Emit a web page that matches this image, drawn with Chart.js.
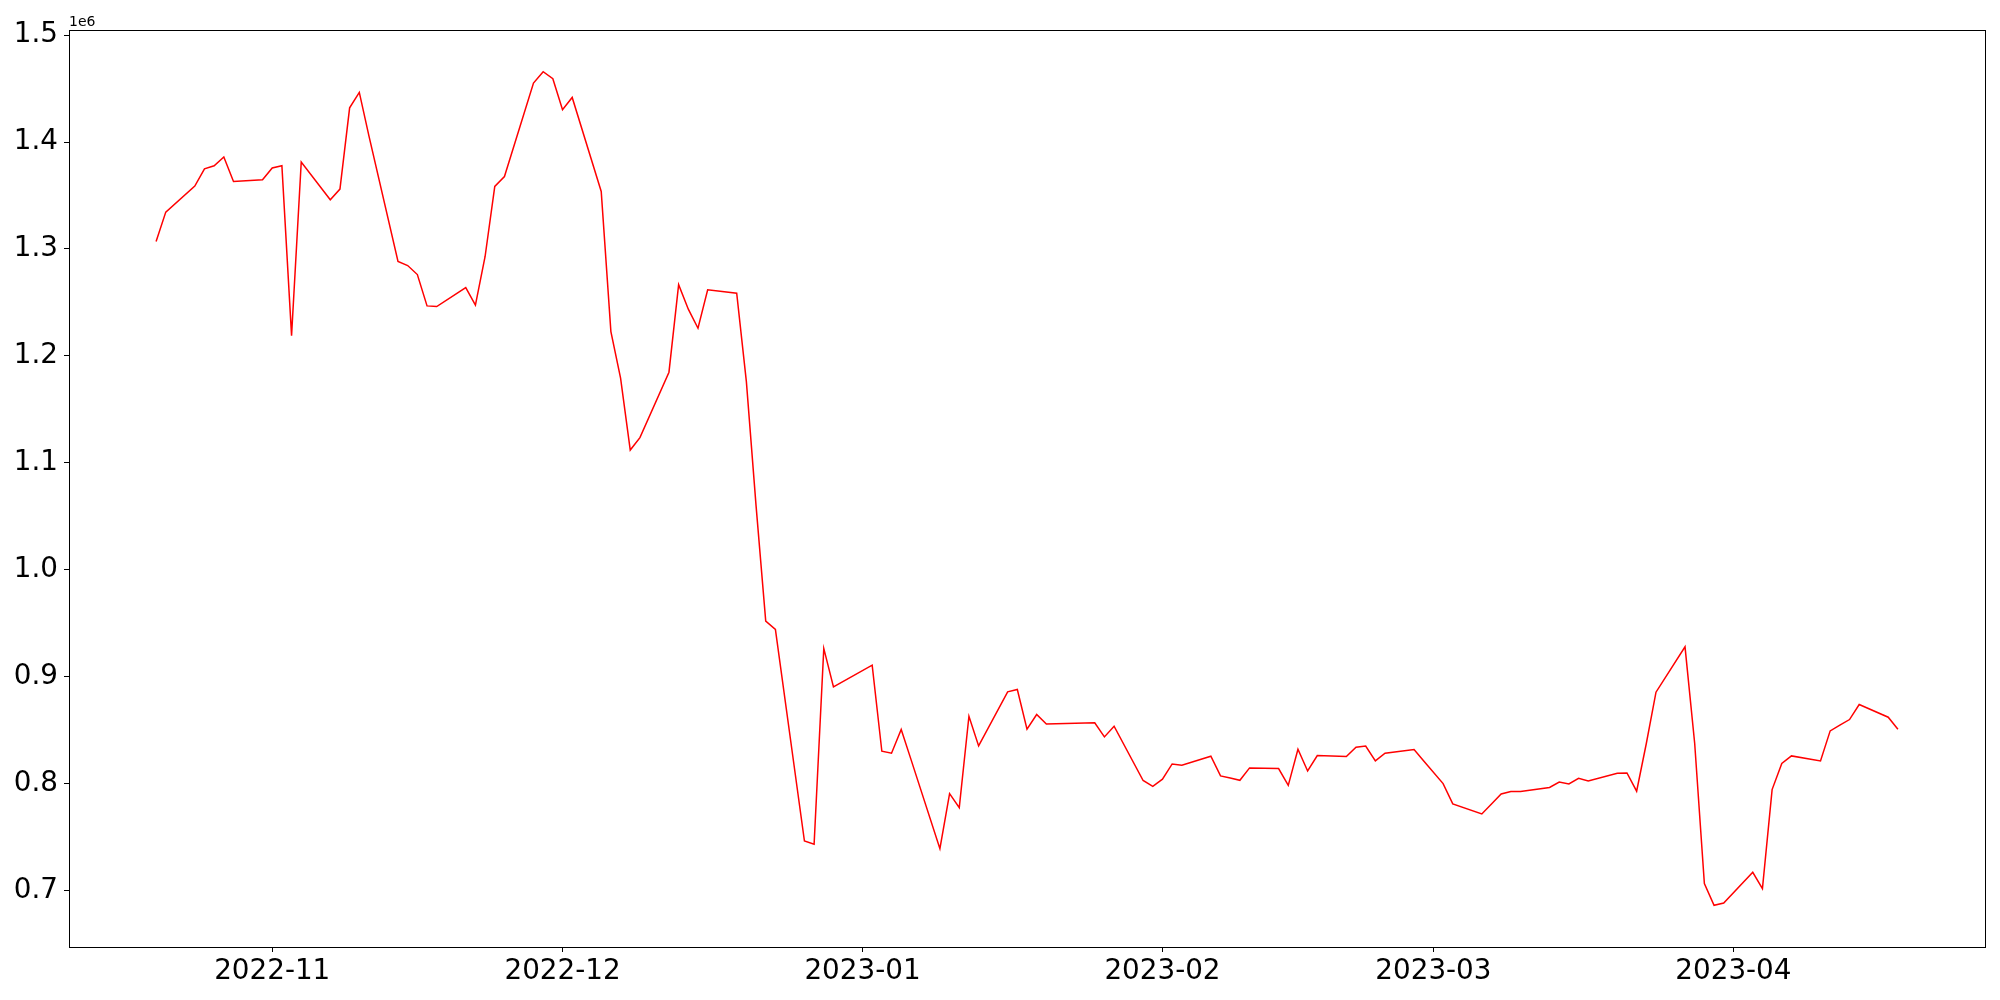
<!DOCTYPE html>
<html>
<head>
<meta charset="utf-8">
<script src="https://cdn.jsdelivr.net/npm/chart.js@4.4.0/dist/chart.umd.min.js"></script>
<style>
  html, body { margin: 0; padding: 0; background: #fff; }
  #wrap { width: 2000px; height: 1000px; }
</style>
</head>
<body>
<div id="wrap"><canvas id="c" width="2000" height="1000"></canvas></div>
<script>
// ---- data ----
const dates = [
  "2022-10-20","2022-10-21","2022-10-24","2022-10-25","2022-10-26","2022-10-27","2022-10-28","2022-10-31",
  "2022-11-01","2022-11-02","2022-11-03","2022-11-04","2022-11-07","2022-11-08","2022-11-09","2022-11-10","2022-11-11",
  "2022-11-14","2022-11-15","2022-11-16","2022-11-17","2022-11-18","2022-11-21","2022-11-22","2022-11-23","2022-11-24",
  "2022-11-25","2022-11-28","2022-11-29","2022-11-30",
  "2022-12-01","2022-12-02","2022-12-05","2022-12-06","2022-12-07","2022-12-08","2022-12-09","2022-12-12","2022-12-13",
  "2022-12-14","2022-12-15","2022-12-16","2022-12-19","2022-12-20","2022-12-21","2022-12-22","2022-12-23","2022-12-26",
  "2022-12-27","2022-12-28","2022-12-29",
  "2023-01-02","2023-01-03","2023-01-04","2023-01-05","2023-01-06","2023-01-09","2023-01-10","2023-01-11","2023-01-12",
  "2023-01-13","2023-01-16","2023-01-17","2023-01-18","2023-01-19","2023-01-20","2023-01-25","2023-01-26","2023-01-27",
  "2023-01-30","2023-01-31",
  "2023-02-01","2023-02-02","2023-02-03","2023-02-06","2023-02-07","2023-02-08","2023-02-09","2023-02-10","2023-02-13",
  "2023-02-14","2023-02-15","2023-02-16","2023-02-17","2023-02-20","2023-02-21","2023-02-22","2023-02-23","2023-02-24",
  "2023-02-27","2023-02-28",
  "2023-03-02","2023-03-03","2023-03-06","2023-03-07","2023-03-08","2023-03-09","2023-03-10","2023-03-13","2023-03-14",
  "2023-03-15","2023-03-16","2023-03-17","2023-03-20","2023-03-21","2023-03-22","2023-03-23","2023-03-24","2023-03-27",
  "2023-03-28","2023-03-29","2023-03-30","2023-03-31",
  "2023-04-03","2023-04-04","2023-04-05","2023-04-06","2023-04-07","2023-04-10","2023-04-11","2023-04-12","2023-04-13",
  "2023-04-14","2023-04-17","2023-04-18"
];
const values = [
  1307000,1334500,1358800,1375000,1377800,1386000,1363100,1364700,
  1375700,1377800,1219000,1381300,1346000,1356000,1432000,1446400,1405600,
  1288300,1284500,1276100,1246800,1246200,1263900,1247500,1293000,1358500,
  1367800,1455200,1465800,1459200,
  1430200,1441700,1353800,1222800,1179200,1112000,1123600,1184800,1266700,
  1243700,1225900,1261800,1258700,1176000,1060000,952000,944300,746400,
  743400,926500,890600,
  910900,830400,828500,850700,823000,739300,790800,777700,863100,
  835300,885900,888100,851000,864700,855900,856900,843800,853800,
  803000,797600,
  804200,818500,817300,825700,807300,805400,803200,814800,814200,
  798500,832200,811900,826300,825400,834100,835300,821300,828500,
  832000,821300,
  800100,781100,771700,781100,790400,792700,792700,796500,801600,
  799800,805100,802600,809800,810100,793000,837600,885600,928000,
  837600,706600,686300,688400,
  717200,701900,794500,818900,826000,821300,849400,854700,860000,
  874100,862200,851000
];
const yTickValues = [700000,800000,900000,1000000,1100000,1200000,1300000,1400000,1500000];
const xTickLabels = ["2022-11","2022-12","2023-01","2023-02","2023-03","2023-04"];
const offsetLabel = "1e6";

// ---- helpers ----
const DAY = 86400000;
function dayNum(s) {
  const p = s.split("-").map(Number);
  return Date.UTC(p[0], p[1] - 1, p[2] || 1) / DAY;
}
const points = dates.map((d, i) => ({ x: dayNum(d), y: values[i] }));
const xs = points.map(p => p.x), ys = values;
const xMinD = Math.min(...xs), xMaxD = Math.max(...xs);
const yMinD = Math.min(...ys), yMaxD = Math.max(...ys);
const xPad = (xMaxD - xMinD) * 0.05, yPad = (yMaxD - yMinD) * 0.05;
const xTickValues = xTickLabels.map(l => dayNum(l));

const FONT = "'DejaVu Sans', sans-serif";

const framePlugin = {
  id: 'frame',
  afterDraw(chart) {
    const { ctx, chartArea: a } = chart;
    ctx.save();
    ctx.strokeStyle = '#000';
    ctx.lineWidth = 1;
    ctx.strokeRect(Math.round(a.left) + 0.5, Math.round(a.top) + 0.5,
                   Math.round(a.right - a.left), Math.round(a.bottom - a.top));
    ctx.fillStyle = '#000';
    ctx.font = "14px " + FONT;
    ctx.textBaseline = 'bottom';
    ctx.textAlign = 'left';
    ctx.fillText(offsetLabel, a.left, a.top - 1);
    ctx.restore();
  }
};

new Chart(document.getElementById('c'), {
  type: 'line',
  data: {
    datasets: [{
      data: points,
      borderColor: '#ff0000',
      borderWidth: 1.5,
      pointRadius: 0,
      tension: 0,
      fill: false
    }]
  },
  options: {
    responsive: false,
    animation: false,
    devicePixelRatio: 1,
    layout: { padding: { top: 30, right: 15, left: 0, bottom: 0 } },
    plugins: { legend: { display: false }, tooltip: { enabled: false } },
    scales: {
      x: {
        type: 'linear',
        min: xMinD - xPad,
        max: xMaxD + xPad,
        afterBuildTicks(scale) { scale.ticks = xTickValues.map(v => ({ value: v })); },
        afterFit(scale) { scale.height = 53; },
        ticks: {
          autoSkip: false,
          maxRotation: 0,
          padding: 3,
          color: '#000',
          font: { family: FONT, size: 27.8 },
          callback(v) { const i = xTickValues.indexOf(v); return i >= 0 ? xTickLabels[i] : ''; }
        },
        grid: { display: true, drawOnChartArea: false, drawTicks: true, tickLength: 5, color: '#000', lineWidth: 1 },
        border: { display: true, color: '#000', width: 1 }
      },
      y: {
        type: 'linear',
        min: yMinD - yPad,
        max: yMaxD + yPad,
        afterBuildTicks(scale) { scale.ticks = yTickValues.map(v => ({ value: v })); },
        afterFit(scale) { scale.width = 69; },
        ticks: {
          padding: 6,
          color: '#000',
          font: { family: FONT, size: 27.8 },
          callback(v) { return (v / 1e6).toFixed(1); }
        },
        grid: { display: true, drawOnChartArea: false, drawTicks: true, tickLength: 5, color: '#000', lineWidth: 1 },
        border: { display: true, color: '#000', width: 1 }
      }
    }
  },
  plugins: [framePlugin]
});
</script>
</body>
</html>
